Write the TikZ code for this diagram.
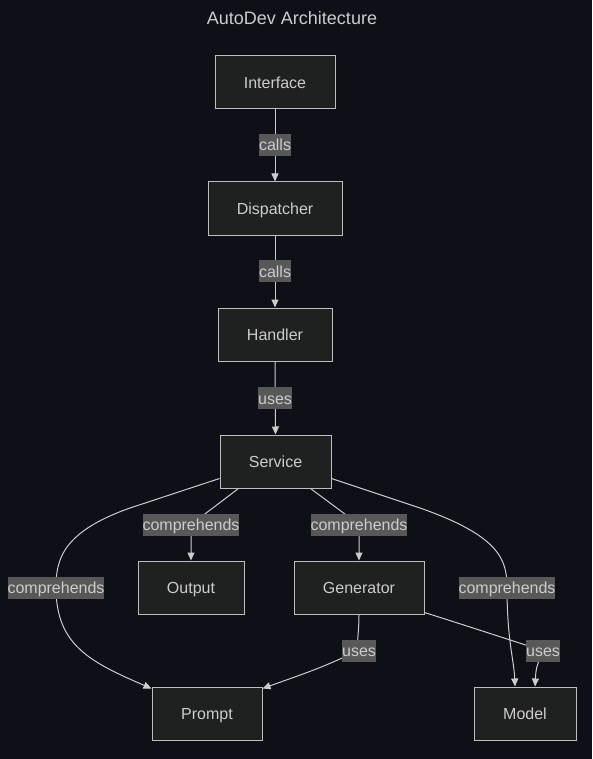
\documentclass[tikz,border=0pt]{standalone}
\usepackage{fontspec}
\setmainfont{Liberation Sans}
\usetikzlibrary{arrows.meta,backgrounds}
\definecolor{bgc}{RGB}{13,16,23}
\definecolor{boxfill}{RGB}{31,32,32}
\definecolor{boxline}{RGB}{190,190,190}
\definecolor{txt}{RGB}{204,204,204}
\definecolor{lblfill}{RGB}{88,88,88}
\definecolor{edgec}{RGB}{204,204,204}
\tikzset{
  box/.style={draw=boxline, fill=boxfill, line width=1pt, minimum height=53pt, inner sep=0pt, text=txt, text height=13pt, text depth=1pt, font=\fontsize{16}{19}\selectfont},
  lbl/.style={fill=lblfill, text=txt, inner xsep=0pt, inner ysep=0pt, minimum height=22pt, text height=13pt, text depth=1pt, font=\fontsize{16}{19}\selectfont},
  conn/.style={draw=edgec, line width=1pt, -{Triangle[length=8pt,width=7pt]}},
}
\begin{document}
\begin{tikzpicture}[x=1pt,y=-1pt]
\useasboundingbox (0,0) rectangle (592,759);
\node[text=txt, font=\fontsize{18}{21}\selectfont] (title) at (292,18) {AutoDev Architecture};
\node[box, minimum width=120pt] (itf) at (275,82.5) {Interface};
\node[box, minimum width=134pt] (dsp) at (275,208.5) {Dispatcher};
\node[box, minimum width=114pt] (hnd) at (275,334.5) {Handler};
\node[box, minimum width=111pt] (svc) at (275.5,461.5) {Service};
\node[box, minimum width=106pt] (out) at (191,587.5) {Output};
\node[box, minimum width=130pt] (gen) at (359,587.5) {Generator};
\node[box, minimum width=110pt] (pr) at (207,713.5) {Prompt};
\node[box, minimum width=102pt] (mod) at (525,713.5) {Model};
% labels
\node[lbl] (l1) at (275,145) {calls};
\node[lbl] (l2) at (275,271) {calls};
\node[lbl] (l3) at (275,398) {uses};
\node[lbl] (l4) at (191,524.5) {comprehends};
\node[lbl] (l5) at (359,524.5) {comprehends};
\node[lbl] (l6) at (56,587.5) {comprehends};
\node[lbl] (l7) at (507,587.5) {comprehends};
\node[lbl] (l8) at (359,650.5) {uses};
\node[lbl] (l9) at (543,650.5) {uses};
\begin{scope}[on background layer]
\fill[bgc] (0,0) rectangle (592,759);
\draw[conn] (itf.south) -- (dsp.north);
\draw[conn] (dsp.south) -- (hnd.north);
\draw[conn] (hnd.south) -- (svc.north);
\draw[conn] ([xshift=19pt]svc.south west) -- (l4.center) -- (out.north);
\draw[conn] ([xshift=-21pt]svc.south east) -- (l5.center) -- (gen.north);
\draw[conn] ([yshift=10pt]svc.south west) -- (130,508) .. controls (62,532) and (56,560) .. (l6.center)
   .. controls (56,645) and (90,662) .. ([yshift=-2pt]pr.north west);
\draw[conn] ([yshift=10pt]svc.south east) -- (420,508) .. controls (500,536) and (507,560) .. (l7.center)
   .. controls (507,640) and (514,660) .. ([xshift=-10pt]mod.north);
\draw[conn] (gen.south) .. controls (359,635) and (356,642) .. (l8.center)
   .. controls (320,668) .. ([yshift=-2pt]pr.north east);
\draw[conn] ([yshift=2pt]gen.south east) .. controls (480,630) and (525,645) .. (l9.center)
   .. controls (536,668) .. ([xshift=10pt]mod.north);
\end{scope}
\end{tikzpicture}
\end{document}
